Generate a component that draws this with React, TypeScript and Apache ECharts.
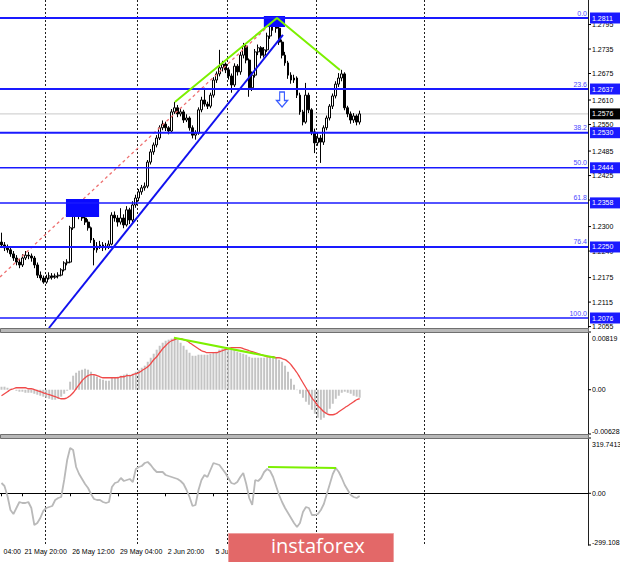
import React, { useEffect, useRef } from "react";
import * as echarts from "echarts";

// ---------- data ----------
const SLOTS = 197; // bars + empty future space
const opens = [
  1.2262, 1.2255, 1.2248, 1.2243, 1.2233, 1.2223, 1.2213, 1.2206, 1.2223, 1.223,
  1.2228, 1.2223, 1.2206, 1.2181, 1.2174, 1.2164, 1.2174, 1.2179, 1.2176, 1.2179,
  1.2181, 1.2194, 1.2211, 1.2213, 1.2297, 1.2341, 1.2333, 1.2326, 1.2321, 1.2311,
  1.2297, 1.2267, 1.2243, 1.2252, 1.2255, 1.2248, 1.2252, 1.2257, 1.2328, 1.2321,
  1.2311, 1.2321, 1.2304, 1.2341, 1.2316, 1.2353, 1.237, 1.2385, 1.2395, 1.2399,
  1.2458, 1.2483, 1.25, 1.2517, 1.2542, 1.2551, 1.2542, 1.2534, 1.2581, 1.2591,
  1.2576, 1.2581, 1.2561, 1.2566, 1.2542, 1.2524, 1.2529, 1.2586, 1.261, 1.26,
  1.2595, 1.2622, 1.2659, 1.2674, 1.2689, 1.2698, 1.2684, 1.2669, 1.2647, 1.2693,
  1.2679, 1.272, 1.2742, 1.2708, 1.264, 1.2671, 1.2728, 1.2738, 1.272, 1.2733,
  1.2767, 1.2794, 1.2806, 1.2786, 1.2752, 1.272, 1.2701, 1.2671, 1.2659, 1.2664,
  1.2622, 1.2581, 1.2556, 1.2622, 1.2586, 1.2532, 1.2505, 1.2517, 1.2507, 1.2542,
  1.2566, 1.2595, 1.262, 1.2649, 1.2664, 1.2674, 1.2591, 1.2576, 1.2561, 1.2571,
  1.2556,
];
const closes = [
  1.2255, 1.2248, 1.2243, 1.2233, 1.2223, 1.2213, 1.2206, 1.2223, 1.223, 1.2228,
  1.2223, 1.2206, 1.2181, 1.2174, 1.2164, 1.2174, 1.2179, 1.2176, 1.2179, 1.2181,
  1.2194, 1.2211, 1.2213, 1.2297, 1.2341, 1.2333, 1.2326, 1.2321, 1.2311, 1.2297,
  1.2267, 1.2243, 1.2252, 1.2255, 1.2248, 1.2252, 1.2257, 1.2328, 1.2321, 1.2311,
  1.2321, 1.2304, 1.2341, 1.2316, 1.2353, 1.237, 1.2385, 1.2395, 1.2399, 1.2458,
  1.2483, 1.25, 1.2517, 1.2542, 1.2551, 1.2542, 1.2534, 1.2581, 1.2591, 1.2576,
  1.2581, 1.2561, 1.2566, 1.2542, 1.2524, 1.2529, 1.2586, 1.261, 1.26, 1.2595,
  1.2622, 1.2659, 1.2674, 1.2689, 1.2698, 1.2684, 1.2669, 1.2647, 1.2693, 1.2679,
  1.272, 1.2742, 1.2708, 1.264, 1.2671, 1.2728, 1.2738, 1.272, 1.2733, 1.2767,
  1.2794, 1.2806, 1.2786, 1.2752, 1.272, 1.2701, 1.2671, 1.2659, 1.2664, 1.2622,
  1.2581, 1.2556, 1.2622, 1.2586, 1.2532, 1.2505, 1.2517, 1.2507, 1.2542, 1.2566,
  1.2595, 1.262, 1.2649, 1.2664, 1.2674, 1.2591, 1.2576, 1.2561, 1.2571, 1.2556,
  1.2576,
];
const highs = [
  1.2285, 1.2262, 1.2256, 1.225, 1.224, 1.223, 1.2221, 1.2232, 1.224, 1.2238,
  1.2234, 1.2228, 1.2212, 1.219, 1.218, 1.2182, 1.2188, 1.2186, 1.2185, 1.2188,
  1.2198, 1.2215, 1.222, 1.2302, 1.2352, 1.2355, 1.2342, 1.2335, 1.233, 1.2318,
  1.23, 1.2272, 1.2262, 1.2265, 1.2262, 1.226, 1.2266, 1.2335, 1.2337, 1.2328,
  1.2345, 1.233, 1.235, 1.2346, 1.2362, 1.2378, 1.2392, 1.2402, 1.2408, 1.2463,
  1.249, 1.2506, 1.2524, 1.2548, 1.256, 1.2557, 1.2546, 1.2588, 1.2605, 1.2598,
  1.259, 1.2586, 1.2575, 1.257, 1.2548, 1.2536, 1.2592, 1.2618, 1.264, 1.2606,
  1.2628, 1.2666, 1.268, 1.2733, 1.2706, 1.2702, 1.269, 1.2675, 1.27, 1.2698,
  1.2728, 1.275, 1.2746, 1.2712, 1.268, 1.2735, 1.2746, 1.2742, 1.274, 1.2775,
  1.28, 1.2811, 1.281, 1.2792, 1.2758, 1.2728, 1.2706, 1.2678, 1.2672, 1.2668,
  1.2628, 1.2586, 1.2652, 1.2628, 1.259, 1.254, 1.253, 1.2524, 1.2548, 1.2572,
  1.26, 1.2626, 1.2656, 1.2676, 1.2684, 1.2678, 1.2596, 1.2582, 1.2578, 1.2575,
  1.2584,
];
const lows = [
  1.225, 1.224, 1.2236, 1.2226, 1.2216, 1.2205, 1.2198, 1.2201, 1.2218, 1.222,
  1.2214, 1.2198, 1.2174, 1.2168, 1.216, 1.216, 1.217, 1.217, 1.2172, 1.2173,
  1.2178, 1.219, 1.2205, 1.221, 1.2292, 1.2325, 1.2318, 1.2314, 1.2304, 1.229,
  1.226, 1.2205, 1.2236, 1.2245, 1.224, 1.2242, 1.2245, 1.2254, 1.2312, 1.23,
  1.2305, 1.2296, 1.23, 1.2306, 1.231, 1.2346, 1.2362, 1.2378, 1.2388, 1.2394,
  1.2452, 1.2476, 1.2494, 1.2512, 1.2536, 1.2534, 1.2526, 1.253, 1.2576, 1.2568,
  1.257, 1.2554, 1.2556, 1.2535, 1.2516, 1.2513, 1.2525, 1.258, 1.2594, 1.2588,
  1.259, 1.2616, 1.2652, 1.2668, 1.268, 1.2676, 1.266, 1.2628, 1.2642, 1.267,
  1.2672, 1.2712, 1.27, 1.2618, 1.2632, 1.2665, 1.272, 1.2712, 1.2714, 1.2728,
  1.276, 1.278, 1.2775, 1.2745, 1.2712, 1.2694, 1.2662, 1.265, 1.2652, 1.2615,
  1.2574, 1.2548, 1.2552, 1.2578, 1.2524, 1.248, 1.2498, 1.2456, 1.25, 1.2536,
  1.256, 1.2588, 1.2614, 1.2642, 1.2656, 1.2585, 1.2568, 1.2552, 1.2554, 1.2548,
  1.255,
];
const macdHist = [
  0.00043, 0.00043, 0.00028, 0.00014, 0.00002, -0.00014, -0.00028, -0.00028, -0.00043, -0.00043,
  -0.00043, -0.00057, -0.00071, -0.00085, -0.00099, -0.00114, -0.00128, -0.00142, -0.00142, -0.00128,
  -0.00099, -0.00057, -0.00014, 0.00114, 0.00199, 0.00241, 0.0027, 0.00284, 0.00298, 0.00284,
  0.00255, 0.00213, 0.00184, 0.00156, 0.00142, 0.00128, 0.00128, 0.0017, 0.0017, 0.00184,
  0.00199, 0.00213, 0.00227, 0.00213, 0.00227, 0.00255, 0.00284, 0.00312, 0.00341, 0.00397,
  0.00454, 0.00511, 0.00568, 0.00624, 0.00667, 0.00695, 0.0071, 0.00724, 0.00738, 0.0071,
  0.00667, 0.00624, 0.00568, 0.00525, 0.00482, 0.00482, 0.00497, 0.00497, 0.00497, 0.00497,
  0.00511, 0.00525, 0.00539, 0.00568, 0.00582, 0.00582, 0.00582, 0.00568, 0.00568, 0.00539,
  0.00525, 0.00511, 0.00497, 0.00468, 0.00454, 0.00454, 0.00454, 0.00454, 0.00454, 0.00454,
  0.00468, 0.00468, 0.00454, 0.00426, 0.00397, 0.00341, 0.00255, 0.00156, 0.00071, -0.00005,
  -0.00057, -0.00114, -0.0017, -0.00213, -0.00284, -0.00341, -0.00397, -0.00426, -0.00397, -0.00341,
  -0.0027, -0.00199, -0.00128, -0.00085, -0.00043, -0.00028, -0.00043, -0.00057, -0.00085, -0.00099,
  -0.00114,
];
const macdSignal = [
  -0.00085, -0.00057, -0.00028, 0.0, 0.00014, 0.00028, 0.00028, 0.00028, 0.00028, 0.00014,
  0.00014, 0.0, -0.00014, -0.00028, -0.00043, -0.00057, -0.00071, -0.00085, -0.00099, -0.00114,
  -0.00128, -0.00128, -0.00114, -0.00085, -0.00043, 0.00014, 0.00071, 0.00128, 0.0017, 0.00199,
  0.00213, 0.00213, 0.00199, 0.00184, 0.0017, 0.0017, 0.0017, 0.0017, 0.0017, 0.0017,
  0.00184, 0.00184, 0.00199, 0.00199, 0.00213, 0.00227, 0.00241, 0.0027, 0.00298, 0.00326,
  0.00369, 0.00426, 0.00468, 0.00525, 0.00582, 0.00624, 0.00667, 0.00695, 0.0071, 0.00724,
  0.00724, 0.0071, 0.00695, 0.00667, 0.00639, 0.0061, 0.00582, 0.00553, 0.00539, 0.00525,
  0.00525, 0.00525, 0.00525, 0.00539, 0.00553, 0.00568, 0.00582, 0.00596, 0.00596, 0.00596,
  0.00596, 0.00582, 0.00568, 0.00553, 0.00539, 0.00525, 0.00511, 0.00497, 0.00482, 0.00468,
  0.00468, 0.00468, 0.00454, 0.00454, 0.0044, 0.00426, 0.00397, 0.00355, 0.00298, 0.00241,
  0.0017, 0.00099, 0.00028, -0.00043, -0.00114, -0.0017, -0.00227, -0.0027, -0.00312, -0.00341,
  -0.00355, -0.00355, -0.00341, -0.00312, -0.00284, -0.00255, -0.00227, -0.00199, -0.0017, -0.00142,
  -0.00128,
];
const cci = [
  59.5, 42.1, -15.7, -96.7, -119.8, -85.1, -50.4, -56.2, -56.2, -50.4,
  -85.1, -183.5, -171.9, -143.0, -102.5, -85.1, -79.3, -73.6, -38.9, -27.3,
  -21.5, 76.8, 192.5, 261.9, 250.3, 152.0, 111.5, 82.6, 53.7, 30.5,
  -4.2, -33.1, -38.9, -38.9, -50.4, -56.2, -50.4, 36.3, 59.5, 65.2,
  88.4, 71.0, 76.8, 82.6, 65.2, 140.4, 152.0, 157.8, 175.1, 180.9,
  163.6, 140.4, 123.1, 123.1, 123.1, 105.7, 99.9, 94.2, 88.4, 82.6,
  71.0, 53.7, 19.0, -21.5, -73.6, -67.8, 19.0, 76.8, 105.7, 94.2,
  134.7, 175.1, 169.4, 163.6, 140.4, 117.3, 88.4, 59.5, 53.7, 65.2,
  94.2, 117.3, 53.7, -27.3, -67.8, 76.8, 71.0, 88.4, 123.1, 140.4,
  128.9, 94.2, 42.1, -9.9, -50.4, -85.1, -114.1, -143.0, -171.9, -195.0,
  -171.9, -108.3, -79.3, -85.1, -125.6, -125.6, -119.8, -96.7, -62.0, -4.2,
  53.7, 111.5, 146.2, 123.1, 88.4, 47.9, 19.0, -9.9, -21.5, -27.3,
  -15.7,
];

const priceTicks = [1.2795, 1.2735, 1.2675, 1.261, 1.255, 1.2485, 1.2425, 1.2365, 1.23, 1.224, 1.2175, 1.2115, 1.2055];
const fibLevels = ["0.0", "23.6", "38.2", "50.0", "61.8", "76.4", "100.0"];
const fibPrices = [1.2811, 1.2637, 1.253, 1.2444, 1.2358, 1.225, 1.2076];
const lastPrice = 1.2576;
const macdAxisValues = [0.00819, 0, -0.00628];
const macdAxisTexts = ["0.00819", "0.00", "-0.00628"];
const cciAxisValues = [319.7413, 0, -299.108];
const cciAxisTexts = ["319.7413", "0.00", "-299.108"];
const timeLabels = ["04:00", "21 May 20:00", "26 May 12:00", "29 May 04:00", "2 Jun 20:00", "5 Jun 12:00"];
const timeLabelBars = [0, 7, 23, 39, 55, 71];
const gridBars = [15, 46, 76, 106, 142];

// drawn objects (x in bar units, y in price / indicator units)
const priceDivergence = [[58.1, 1.26052], [92.3, 1.2811], [113.4, 1.26836]];
const trendLine = [[15.9, 1.20515], [94.3, 1.27694]];
const fibTrend = [[-0.5, 1.21765], [92.3, 1.2811]];
const zoneBoxes = [
  [87.9, 1.28159, 95.0, 1.2789],
  [21.6, 1.23676, 32.7, 1.23234],
];
const arrowPoint = [94.0, 1.26113];
const macdDivergence = [[57.8, 0.00738], [91.8, 0.00454]];
const cciDivergence = [[89.3, 152.0], [112.1, 146.2]];

// ---------- styles ----------
const FONT = '7px "Liberation Sans", Arial, sans-serif';
const BLUE = "#1a1aff";
const fibWidth: Record<string, number> = { "0.0": 2, "23.6": 2, "38.2": 2, "50.0": 1.5, "61.8": 1.5, "76.4": 2, "100.0": 1.5 };

export default function App() {
  const ref = useRef<HTMLDivElement>(null);
  useEffect(() => {
    if (!ref.current) return;
    const chart = echarts.init(ref.current, undefined, { renderer: "svg" });
    const cats = Array.from({ length: SLOTS }, (_, i) => String(i));
    const candleData = opens.map((o, i) => [o, closes[i], lows[i], highs[i]]);
    const labelMap: Record<number, string> = {};
    timeLabelBars.forEach((b, i) => (labelMap[b] = timeLabels[i]));

    const splitLine = {
      show: true,
      interval: (idx: number) => gridBars.includes(idx),
      lineStyle: { color: "#202020", type: [2, 2] as any, width: 1 },
    };
    const catAxis = (gridIndex: number, withLabels: boolean) => ({
      type: "category",
      gridIndex,
      data: cats,
      boundaryGap: true,
      axisLine: { show: withLabels, lineStyle: { color: "#000", width: 1 } },
      axisTick: {
        show: withLabels,
        interval: (idx: number) => idx in labelMap,
        alignWithLabel: true,
        length: 3,
        lineStyle: { color: "#000" },
      },
      axisLabel: {
        show: withLabels,
        interval: (idx: number) => idx in labelMap,
        formatter: (_v: string, idx: number) => labelMap[idx] ?? "",
        align: "left",
        margin: 3,
        fontSize: 7,
        fontFamily: '"Liberation Sans", Arial, sans-serif',
        color: "#000",
        padding: [0, 0, 0, 2],
      },
      splitLine,
    });
    const valAxis = (gridIndex: number) => ({
      type: "value",
      gridIndex,
      min: -0.5,
      max: SLOTS - 0.5,
      show: false,
    });
    const yAx = (gridIndex: number, min: number, max: number) => ({
      type: "value",
      gridIndex,
      min,
      max,
      scale: true,
      position: "right",
      axisLine: { show: true, onZero: false, lineStyle: { color: "#202020", width: 1 } },
      axisTick: { show: false },
      axisLabel: { show: false },
      splitLine: { show: false },
    });

    const axisLabelSeries = (xi: number, yi: number, values: number[], texts: string[], edge: boolean) => ({
      type: "custom",
      xAxisIndex: xi,
      yAxisIndex: yi,
      silent: true,
      clip: false,
      z: 3,
      data: values.map((v) => [0, v]),
      encode: { x: 0, y: 1 },
      renderItem: (params: any, api: any) => {
        const cs = params.coordSys;
        const y = api.coord([0, api.value(1)])[1];
        const x = cs.x + cs.width;
        const i = params.dataIndex;
        let va = "middle";
        let ty = y;
        if (edge && i === 0) { va = "top"; ty = y + 2.5; }
        if (edge && i === values.length - 1) { va = "bottom"; ty = y + 1; }
        return {
          type: "group",
          children: [
            { type: "line", shape: { x1: x, y1: y, x2: x + 3, y2: y }, style: { stroke: "#000", lineWidth: 1 } },
            { type: "text", x: x + 4, y: ty, style: { text: texts[i], fill: "#000", font: FONT, align: "left", verticalAlign: va } },
          ],
        };
      },
    });

    const option: any = {
      animation: false,
      backgroundColor: "#ffffff",
      grid: [
        { left: 0, top: 0, width: 588, height: 328, outerBoundsMode: "none", containLabel: false },
        { left: 0, top: 332, width: 588, height: 102, outerBoundsMode: "none", containLabel: false },
        { left: 0, top: 438, width: 588, height: 107, outerBoundsMode: "none", containLabel: false },
      ],
      xAxis: [catAxis(0, false), valAxis(0), catAxis(1, false), valAxis(1), catAxis(2, true), valAxis(2)],
      yAxis: [yAx(0, 1.20515, 1.28551), yAx(1, -0.00628, 0.00819), yAx(2, -299.108, 319.7413)],
      series: [
        {
          type: "candlestick",
          xAxisIndex: 0,
          yAxisIndex: 0,
          data: candleData,
          barWidth: 2.4,
          z: 2,
          itemStyle: { color: "#ffffff", color0: "#000000", borderColor: "#000000", borderColor0: "#000000", borderWidth: 1 },
          silent: true,
        },
        // current price line + box
        {
          type: "custom",
          xAxisIndex: 1,
          yAxisIndex: 0,
          silent: true,
          clip: false,
          z: 1,
          data: [[0, lastPrice]],
          encode: { x: 0, y: 1 },
          renderItem: (params: any, api: any) => {
            const cs = params.coordSys;
            const y = api.coord([0, api.value(1)])[1];
            const x = cs.x + cs.width;
            return {
              type: "group",
              children: [
                { type: "line", shape: { x1: cs.x, y1: y, x2: x, y2: y }, style: { stroke: "#c8c8c8", lineWidth: 1 } },
                { type: "rect", z2: 20, shape: { x: x + 2, y: y - 5.5, width: 30, height: 11 }, style: { fill: "#000" } },
                { type: "text", z2: 21, x: x + 4, y, style: { text: lastPrice.toFixed(4), fill: "#fff", font: FONT, align: "left", verticalAlign: "middle" } },
              ],
            };
          },
        },
        axisLabelSeries(1, 0, priceTicks, priceTicks.map((v) => v.toFixed(4)), false),
        // blue zone rectangles
        {
          type: "custom",
          xAxisIndex: 1,
          yAxisIndex: 0,
          silent: true,
          z: 4,
          data: zoneBoxes,
          encode: { x: [0, 2], y: [1, 3] },
          renderItem: (_p: any, api: any) => {
            const a = api.coord([api.value(0), api.value(1)]);
            const b = api.coord([api.value(2), api.value(3)]);
            return { type: "rect", shape: { x: a[0], y: a[1], width: b[0] - a[0], height: b[1] - a[1] }, style: { fill: "#0a0aff" } };
          },
        },
        // fibonacci levels
        {
          type: "custom",
          xAxisIndex: 1,
          yAxisIndex: 0,
          silent: true,
          clip: false,
          z: 6,
          data: fibPrices.map((p) => [0, p]),
          encode: { x: 0, y: 1 },
          renderItem: (params: any, api: any) => {
            const cs = params.coordSys;
            const y = api.coord([0, api.value(1)])[1];
            const x = cs.x + cs.width;
            const lvl = fibLevels[params.dataIndex];
            return {
              type: "group",
              children: [
                { type: "line", shape: { x1: cs.x, y1: y, x2: x, y2: y }, style: { stroke: BLUE, lineWidth: fibWidth[lvl] } },
                { type: "text", x: x - 1, y: y - 1.5, style: { text: lvl, fill: "#4a4aff", font: FONT, align: "right", verticalAlign: "bottom" } },
                { type: "rect", shape: { x: x + 2, y: y - 5.5, width: 30, height: 11 }, style: { fill: BLUE } },
                { type: "text", x: x + 4, y, style: { text: fibPrices[params.dataIndex].toFixed(4), fill: "#fff", font: FONT, align: "left", verticalAlign: "middle" } },
              ],
            };
          },
        },
        {
          type: "line",
          xAxisIndex: 1,
          yAxisIndex: 0,
          data: fibTrend,
          symbol: "none",
          z: 3,
          lineStyle: { color: "#ee7070", width: 1.3, type: [3, 3] },
          silent: true,
        },
        {
          type: "line",
          xAxisIndex: 1,
          yAxisIndex: 0,
          data: trendLine,
          symbol: "none",
          z: 5,
          lineStyle: { color: "#1010ee", width: 2 },
          silent: true,
        },
        {
          type: "line",
          xAxisIndex: 1,
          yAxisIndex: 0,
          data: priceDivergence,
          symbol: "none",
          z: 7,
          lineStyle: { color: "#7cf000", width: 2 },
          silent: true,
        },
        {
          type: "scatter",
          xAxisIndex: 1,
          yAxisIndex: 0,
          data: [arrowPoint],
          symbol: "path://M4,0 L10,0 L10,9 L14,9 L7,16 L0,9 L4,9 Z",
          symbolSize: [11, 15],
          z: 7,
          itemStyle: { color: "#ffffff", borderColor: "#3a5cff", borderWidth: 1.3, opacity: 1 },
          silent: true,
        },
        // MACD
        {
          type: "bar",
          xAxisIndex: 2,
          yAxisIndex: 1,
          data: macdHist,
          barWidth: 2,
          itemStyle: { color: "#c4c4c4" },
          silent: true,
        },
        {
          type: "line",
          xAxisIndex: 2,
          yAxisIndex: 1,
          data: macdSignal,
          smooth: true,
          symbol: "none",
          z: 4,
          lineStyle: { color: "#f04a4a", width: 1.3 },
          silent: true,
        },
        {
          type: "line",
          xAxisIndex: 3,
          yAxisIndex: 1,
          data: macdDivergence,
          symbol: "none",
          z: 5,
          lineStyle: { color: "#7cf000", width: 2 },
          silent: true,
        },
        axisLabelSeries(3, 1, macdAxisValues, macdAxisTexts, true),
        // CCI
        {
          type: "line",
          xAxisIndex: 4,
          yAxisIndex: 2,
          data: cci,
          symbol: "none",
          z: 3,
          lineStyle: { color: "#b9b9b9", width: 1.8 },
          silent: true,
        },
        {
          type: "line",
          xAxisIndex: 5,
          yAxisIndex: 2,
          data: cciDivergence,
          symbol: "none",
          z: 5,
          lineStyle: { color: "#7cf000", width: 2 },
          silent: true,
        },
        axisLabelSeries(5, 2, cciAxisValues, cciAxisTexts, true),
      ],
      graphic: [
        { type: "rect", left: 0, top: 328, z: 50, shape: { width: 588, height: 4 }, style: { fill: "#b8b8b8", stroke: "#707070", lineWidth: 1 } },
        { type: "rect", left: 0, top: 434, z: 50, shape: { width: 588, height: 4 }, style: { fill: "#b8b8b8", stroke: "#707070", lineWidth: 1 } },
        { type: "rect", z: 200, zlevel: 0, left: 228, top: 533, shape: { width: 165, height: 29 }, style: { fill: "#e36868", stroke: "#eea0a0", lineWidth: 1 } },
        { type: "text", z: 201, zlevel: 0, left: 271, top: 535, style: { text: "instaforex", fill: "#ffffff", font: '20px "Open Sans", Roboto, sans-serif' } },
      ],
    };
    chart.setOption(option);
    return () => chart.dispose();
  }, []);
  return <div ref={ref} style={{ position: "fixed", left: 0, top: 0, width: 620, height: 562, background: "#fff" }} />;
}
